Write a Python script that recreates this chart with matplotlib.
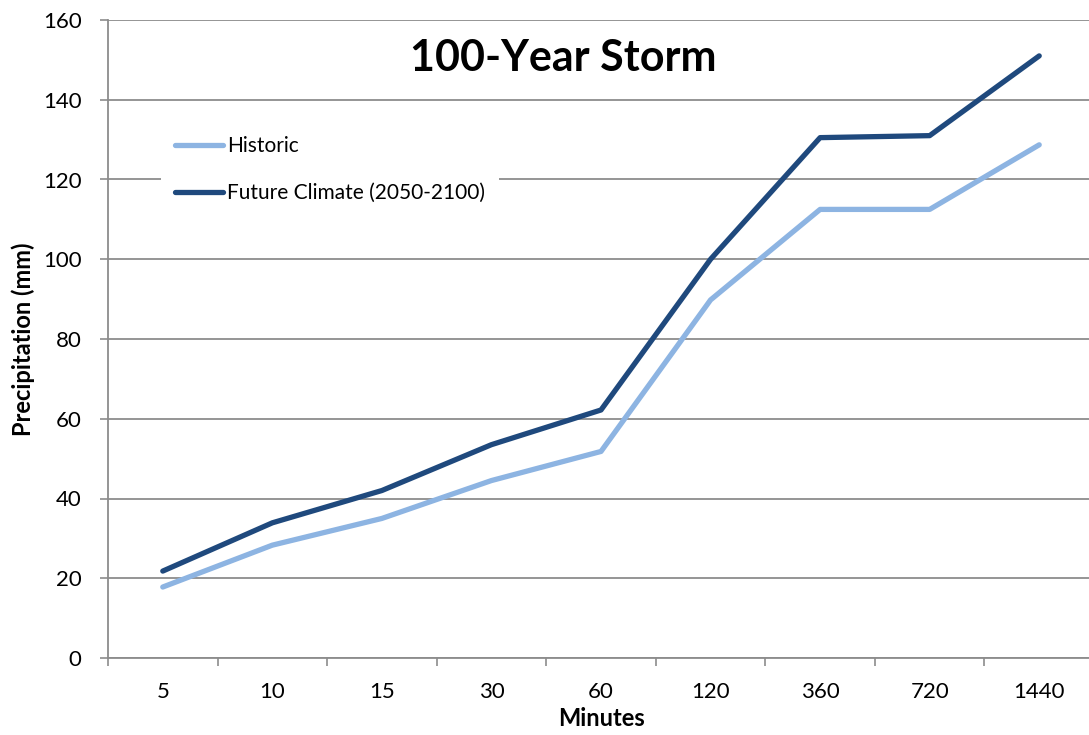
import matplotlib
matplotlib.use("Agg")
import matplotlib.pyplot as plt
from matplotlib.ticker import FixedLocator, NullFormatter

categories = ["5", "10", "15", "30", "60", "120", "360", "720", "1440"]
historic = [17.8, 28.3, 35.0, 44.5, 51.8, 89.8, 112.5, 112.5, 128.7]
future = [21.8, 33.9, 42.0, 53.5, 62.2, 100.0, 130.5, 131.0, 151.0]
series_names = ["Historic", "Future Climate (2050-2100)"]
yticks = [0, 20, 40, 60, 80, 100, 120, 140, 160]

plt.rcParams['font.family'] = ['Lato', 'DejaVu Sans']

W, H = 1089, 735
fig = plt.figure(figsize=(W / 100, H / 100), dpi=100)
ax = fig.add_axes([108 / W, (H - 658) / H, (1094 - 108) / W, (658 - 20) / H])

x = list(range(len(categories)))
ax.plot(x, historic, color="#8DB4E2", lw=3.8, solid_capstyle="round", label=series_names[0], zorder=3)
ax.plot(x, future, color="#1F497D", lw=3.8, solid_capstyle="round", label=series_names[1], zorder=3)

ax.set_xlim(-0.5, len(categories) - 0.5)
ax.set_ylim(0, 160)
ax.set_yticks(yticks)
ax.set_yticklabels([str(v) for v in yticks])
ax.yaxis.grid(True, color="#8C8C8C", lw=1.3)
ax.set_axisbelow(True)

ax.set_xticks(x)
ax.set_xticklabels(categories)
ax.xaxis.set_minor_locator(FixedLocator([i - 0.5 for i in range(len(categories) + 1)]))
ax.xaxis.set_minor_formatter(NullFormatter())
ax.tick_params(axis="x", which="major", length=0, pad=17, labelsize=16)
ax.tick_params(axis="x", which="minor", length=6, color="#8C8C8C", width=1.2)
ax.tick_params(axis="y", length=6, color="#8C8C8C", width=1.2, pad=13, labelsize=16)

for s in ["top", "right"]:
    ax.spines[s].set_visible(False)
for s in ["left", "bottom"]:
    ax.spines[s].set_color("#8C8C8C")
    ax.spines[s].set_linewidth(1.3)

ax.set_xlabel("Minutes", fontsize=17, fontweight="bold", labelpad=4)
ax.set_ylabel("Precipitation (mm)", fontsize=17, fontweight="bold", labelpad=6)

fig.text(563 / W, 1 - 58 / H, "100-Year Storm", ha="center", va="center",
         fontsize=31, fontweight="bold")

leg = ax.legend(loc="upper left", bbox_to_anchor=(161 / W, 1 - 122 / H),
                bbox_transform=fig.transFigure, frameon=True, fancybox=False,
                edgecolor="none", facecolor="white", framealpha=1,
                fontsize=15, handlelength=2.3, handletextpad=0.2,
                labelspacing=1.3, borderpad=0.68, borderaxespad=0)
leg.set_zorder(5)

fig.savefig("out.png", dpi=100)
